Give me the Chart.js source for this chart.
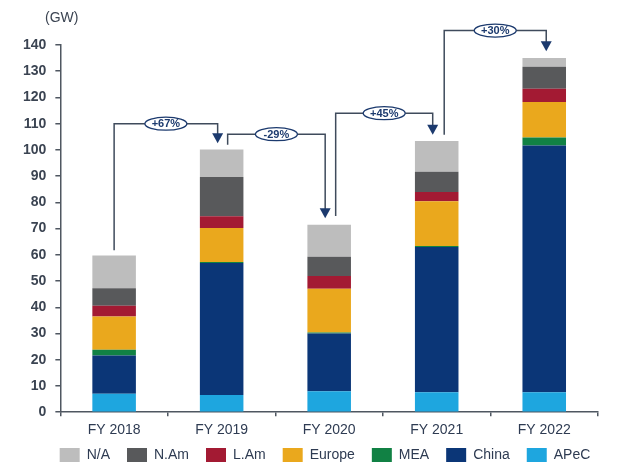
<!DOCTYPE html>
<html>
<head>
<meta charset="utf-8">
<script src="https://cdn.jsdelivr.net/npm/chart.js@4"></script>
<style>
  html, body { margin: 0; padding: 0; background: #fff; }
  #wrap { width: 640px; height: 468px; }
</style>
</head>
<body>
<div id="wrap"><canvas id="chart_gw"></canvas></div>
<script>
var years = ['FY 2018', 'FY 2019', 'FY 2020', 'FY 2021', 'FY 2022'];

// stacked bottom to top
var apec   = [7.0, 6.6, 8.0, 7.6, 7.6];
var china  = [14.6, 50.3, 22.0, 55.4, 94.1];
var mea    = [2.2, 0.4, 0.4, 0.4, 3.0];
var europe = [12.7, 12.9, 16.7, 17.0, 13.6];
var lam    = [4.1, 4.5, 4.8, 3.6, 5.0];
var nam    = [6.7, 15.0, 7.4, 7.7, 8.4];
var na     = [12.4, 10.5, 12.2, 11.7, 3.3];

// year-on-year growth callouts
var growthText  = ['+67%', '-29%', '+45%', '+30%'];
var growthFrom  = [61.7, 102, 74.8, 105.8];
var growthLevel = [110, 106, 114, 145.5];
var growthTo    = [102.5, 73.9, 105.8, 137.6];

var font = 'Arial, "Liberation Sans", sans-serif';

function ds(label, values, color) {
  return {
    label: label,
    data: values,
    backgroundColor: color,
    borderWidth: 0,
    categoryPercentage: 1,
    barPercentage: 0.405
  };
}

// legend sits tighter under the axis labels and a bit to the right
var legendTweak = {
  id: 'legendTweak',
  beforeLayout: function (chart) {
    var lg = chart.legend;
    if (lg && !lg._tweaked) {
      var fit = lg.fit;
      lg.fit = function () {
        fit.call(this);
        this.height -= 14;
      };
      lg._tweaked = true;
    }
  },
  afterLayout: function (chart) {
    var lg = chart.legend;
    if (lg) {
      lg.top -= 14;
      lg.left += 19;
      lg.right += 19;
    }
  }
};

var growthArrows = {
  id: 'growthArrows',
  afterDraw: function (chart) {
    var ctx = chart.ctx;
    var x = chart.scales.x, y = chart.scales.y;
    var fromShift = [0, 6, 6.5, 7.5];
    var toShift = [-4, -4, -4, 2];
    ctx.save();
    for (var i = 0; i < growthText.length; i++) {
      var x1 = x.getPixelForValue(i) + fromShift[i];
      var x2 = x.getPixelForValue(i + 1) + toShift[i];
      var y1 = y.getPixelForValue(growthFrom[i]);
      var yl = y.getPixelForValue(growthLevel[i]);
      var y2 = y.getPixelForValue(growthTo[i]);
      ctx.strokeStyle = '#3f4b5c';
      ctx.lineWidth = 1.5;
      ctx.beginPath();
      ctx.moveTo(x1, y1);
      ctx.lineTo(x1, yl);
      ctx.lineTo(x2, yl);
      ctx.lineTo(x2, y2 - 9);
      ctx.stroke();
      ctx.fillStyle = '#1c3a6e';
      ctx.beginPath();
      ctx.moveTo(x2 - 5.5, y2 - 10);
      ctx.lineTo(x2 + 5.5, y2 - 10);
      ctx.lineTo(x2, y2);
      ctx.closePath();
      ctx.fill();
      var cx = (x1 + x2) / 2;
      ctx.fillStyle = '#ffffff';
      ctx.strokeStyle = '#1c3a6e';
      ctx.lineWidth = 1.3;
      ctx.beginPath();
      ctx.ellipse(cx, yl, 21, 6.5, 0, 0, Math.PI * 2);
      ctx.fill();
      ctx.stroke();
      ctx.fillStyle = '#1c3a6e';
      ctx.font = 'bold 11px ' + font;
      ctx.textAlign = 'center';
      ctx.textBaseline = 'middle';
      ctx.fillText(growthText[i], cx, yl + 0.5);
    }
    ctx.fillStyle = '#3b4452';
    ctx.font = '14px ' + font;
    ctx.textAlign = 'left';
    ctx.textBaseline = 'middle';
    ctx.fillText('(GW)', 45, 18);
    ctx.restore();
  }
};

var config = {
  type: 'bar',
  data: {
    labels: years,
    datasets: [
      ds('APeC', apec, '#1ea6df'),
      ds('China', china, '#0b3677'),
      ds('MEA', mea, '#118144'),
      ds('Europe', europe, '#eaa81d'),
      ds('L.Am', lam, '#a31a33'),
      ds('N.Am', nam, '#58595b'),
      ds('N/A', na, '#bdbdbd')
    ]
  },
  options: {
    responsive: true,
    maintainAspectRatio: false,
    animation: false,
    layout: { padding: { left: 14, right: 42, top: 45, bottom: -4 } },
    scales: {
      x: {
        stacked: true,
        border: { display: true, color: '#4f5761', width: 1.5 },
        grid: { drawOnChartArea: false, drawTicks: true, tickLength: 4, color: '#4f5761', lineWidth: 1.5 },
        ticks: { color: '#2e3b52', font: { family: font, size: 14 }, padding: 6 }
      },
      y: {
        stacked: true,
        min: 0,
        max: 140,
        border: { display: true, color: '#4f5761', width: 1.5 },
        grid: { drawOnChartArea: false, drawTicks: true, tickLength: 5, color: '#4f5761', lineWidth: 1.5 },
        ticks: { stepSize: 10, color: '#3b4452', font: { family: font, size: 14, weight: 'bold' }, padding: 9 }
      }
    },
    plugins: {
      legend: {
        position: 'bottom',
        reverse: true,
        labels: {
          boxWidth: 20,
          boxHeight: 14,
          padding: 17,
          color: '#2e3b52',
          font: { family: font, size: 14 }
        }
      },
      tooltip: { enabled: false }
    }
  },
  plugins: [legendTweak, growthArrows]
};

new Chart(document.getElementById('chart_gw'), config);
</script>
</body>
</html>
